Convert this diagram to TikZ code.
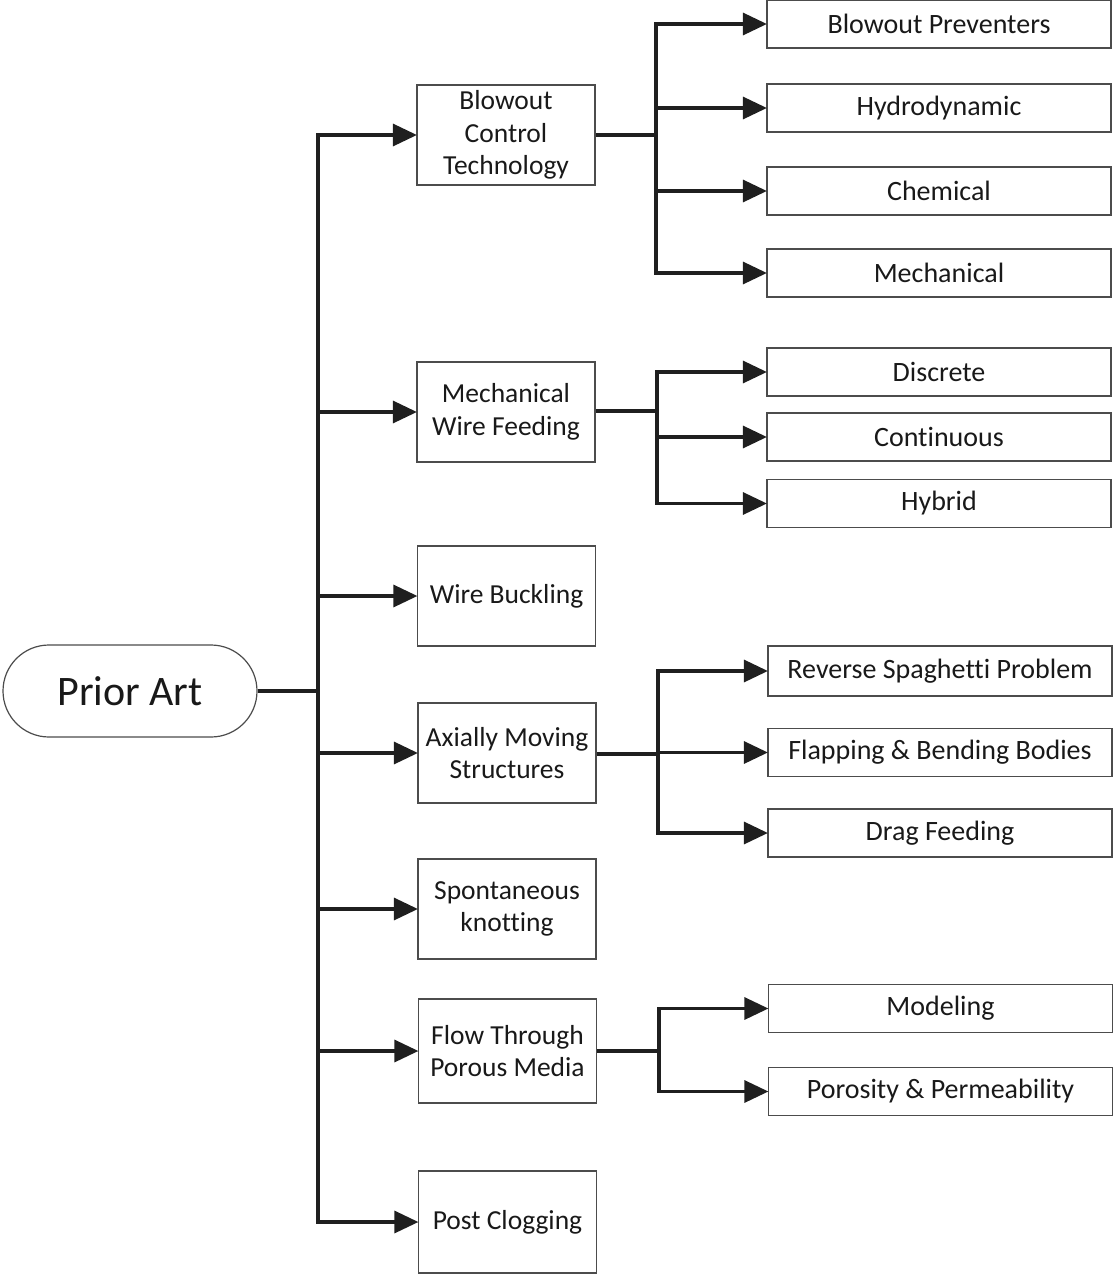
\documentclass[tikz,border=0pt]{standalone}
\usepackage{fontspec}
\setmainfont{Carlito}[Ligatures=NoCommon]
\usetikzlibrary{arrows.meta,shapes.misc}
\begin{document}
\begin{tikzpicture}[x=1pt,y=-1pt,
  midbox/.style={draw=black!70,line width=1.2pt,minimum width=178pt,minimum height=100pt,inner sep=0pt,align=center,font=\fontsize{27.5}{32.5}\selectfont,text=black!90},
  leafbox/.style={draw=black!70,line width=1.2pt,minimum width=344pt,minimum height=48pt,inner sep=0pt,align=center,font=\fontsize{28}{32}\selectfont,text=black!90},
  ln/.style={line width=3.2pt,draw=black!88},
  arr/.style={ln,-{Triangle[length=24pt,width=22pt]},shorten >=-0.5pt}]
\useasboundingbox (0,0) rectangle (1113,1274);
% root
\node[rounded rectangle,draw=black!70,line width=1.2pt,minimum width=254pt,minimum height=92pt,inner sep=0pt,font=\fontsize{42}{46}\selectfont,text=black!90] (pa) at (130,691) {Prior Art};
% middle column
\node[midbox] (bct) at (506,135) {Blowout\\Control\\Technology};
\node[midbox] (mwf) at (506,412) {Mechanical\\Wire Feeding};
\node[midbox] (wb)  at (506.5,596) {Wire Buckling};
\node[midbox] (ams) at (507,753) {Axially Moving\\Structures};
\node[midbox] (sk)  at (507,909) {Spontaneous\\knotting};
\node[midbox,minimum height=104pt] (ftp) at (507.5,1051) {Flow Through\\Porous Media};
\node[midbox,minimum height=102pt] (pc)  at (507.5,1222) {Post Clogging};
% leaves
\node[leafbox] (bp)  at (939,24)  {Blowout Preventers};
\node[leafbox] (hyd) at (939,108) {Hydrodynamic};
\node[leafbox] (che) at (939,191) {Chemical};
\node[leafbox] (mec) at (939,273) {Mechanical};
\node[leafbox] (dis) at (939,372) {Discrete};
\node[leafbox] (con) at (939,437) {Continuous};
\node[leafbox] (hyb) at (939,503.5) {Hybrid};
\node[leafbox,minimum height=50pt] (rsp) at (940,671) {Reverse Spaghetti Problem};
\node[leafbox] (fbb) at (940,752.5) {Flapping \& Bending Bodies};
\node[leafbox] (dfe) at (940,833) {Drag Feeding};
\node[leafbox] (mod) at (940.5,1008.5) {Modeling};
\node[leafbox] (ppe) at (940.5,1091.5) {Porosity \& Permeability};
% junction coordinates
\coordinate (tr) at (318,691);
\coordinate (j1) at (656,135);
\coordinate (j2) at (657,411);
\coordinate (j3) at (658,754);
\coordinate (j4) at (659,1051);
% root to trunk
\draw[ln] (pa.east) -- (tr);
\draw[arr] (tr) |- (bct.west);
\draw[arr] (tr) |- (mwf.west);
\draw[arr] (tr) |- (wb.west);
\draw[arr] (tr) |- (ams.west);
\draw[arr] (tr) |- (sk.west);
\draw[arr] (tr) |- (ftp.west);
\draw[arr] (tr) |- (pc.west);
% blowout group
\draw[ln] (bct.east) -- (j1);
\draw[arr] (j1) |- (bp.west);
\draw[arr] (j1) |- (hyd.west);
\draw[arr] (j1) |- (che.west);
\draw[arr] (j1) |- (mec.west);
% wire feeding group
\draw[ln] (mwf.east |- j2) -- (j2);
\draw[arr] (j2) |- (dis.west);
\draw[arr] (j2) |- (con.west);
\draw[arr] (j2) |- (hyb.west);
% axially moving group
\draw[ln] (ams.east |- j3) -- (j3);
\draw[arr] (j3) |- (rsp.west);
\draw[arr] (j3) |- (fbb.west);
\draw[arr] (j3) |- (dfe.west);
% porous media group
\draw[ln] (ftp.east) -- (j4);
\draw[arr] (j4) |- (mod.west);
\draw[arr] (j4) |- (ppe.west);
\end{tikzpicture}
\end{document}
